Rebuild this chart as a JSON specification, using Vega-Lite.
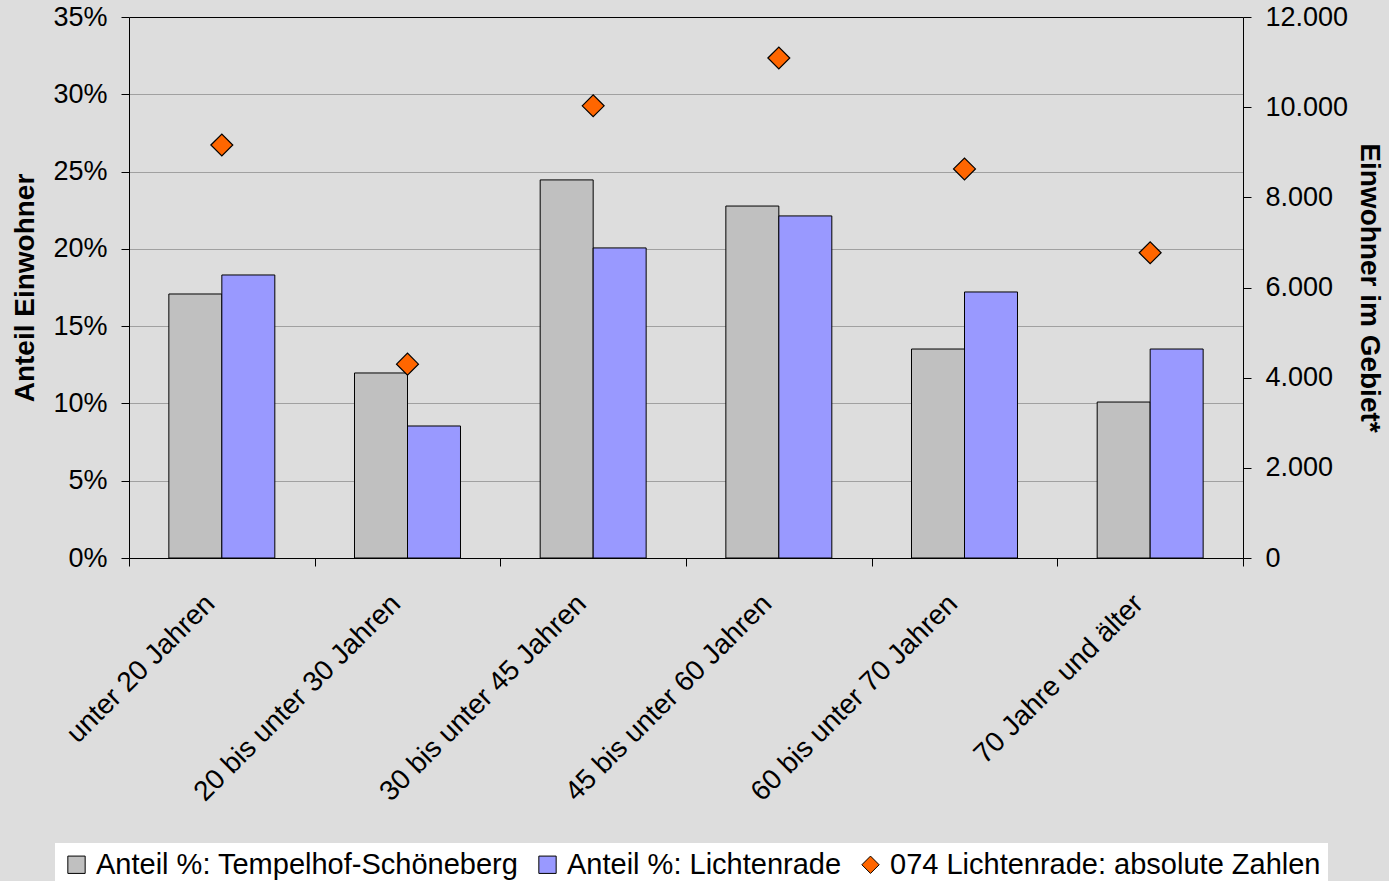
{
  "$schema": "https://vega.github.io/schema/vega-lite/v6.json",
  "width": 1114,
  "height": 541,
  "autosize": {"type": "none"},
  "padding": {"left": 129, "top": 17, "right": 146, "bottom": 323},
  "background": "#DDDDDD",
  "config": {
    "locale": {"number": {"decimal": ",", "thousands": ".", "grouping": [3], "currency": ["", " €"]}},
    "view": {"stroke": null},
    "font": "Liberation Sans",
    "axis": {
      "labelFont": "Liberation Sans",
      "labelFontSize": 27,
      "labelColor": "black",
      "titleFont": "Liberation Sans",
      "titleFontSize": 28,
      "titleFontWeight": "bold",
      "titleColor": "black",
      "domainColor": "black",
      "tickColor": "black",
      "domainWidth": 1,
      "tickWidth": 1
    }
  },
  "datasets": {
    "bars": [
      {"gruppe": "unter 20 Jahren", "serie": "Anteil %: Tempelhof-Schöneberg", "anteil": 0.1708},
      {"gruppe": "unter 20 Jahren", "serie": "Anteil %: Lichtenrade", "anteil": 0.1831},
      {"gruppe": "20 bis unter 30 Jahren", "serie": "Anteil %: Tempelhof-Schöneberg", "anteil": 0.1197},
      {"gruppe": "20 bis unter 30 Jahren", "serie": "Anteil %: Lichtenrade", "anteil": 0.0854},
      {"gruppe": "30 bis unter 45 Jahren", "serie": "Anteil %: Tempelhof-Schöneberg", "anteil": 0.2446},
      {"gruppe": "30 bis unter 45 Jahren", "serie": "Anteil %: Lichtenrade", "anteil": 0.2006},
      {"gruppe": "45 bis unter 60 Jahren", "serie": "Anteil %: Tempelhof-Schöneberg", "anteil": 0.2277},
      {"gruppe": "45 bis unter 60 Jahren", "serie": "Anteil %: Lichtenrade", "anteil": 0.2213},
      {"gruppe": "60 bis unter 70 Jahren", "serie": "Anteil %: Tempelhof-Schöneberg", "anteil": 0.1352},
      {"gruppe": "60 bis unter 70 Jahren", "serie": "Anteil %: Lichtenrade", "anteil": 0.1721},
      {"gruppe": "70 Jahre und älter", "serie": "Anteil %: Tempelhof-Schöneberg", "anteil": 0.1009},
      {"gruppe": "70 Jahre und älter", "serie": "Anteil %: Lichtenrade", "anteil": 0.1352}
    ],
    "punkte": [
      {"gruppe": "unter 20 Jahren", "serie": "074 Lichtenrade: absolute Zahlen", "einwohner": 9160},
      {"gruppe": "20 bis unter 30 Jahren", "serie": "074 Lichtenrade: absolute Zahlen", "einwohner": 4300},
      {"gruppe": "30 bis unter 45 Jahren", "serie": "074 Lichtenrade: absolute Zahlen", "einwohner": 10030},
      {"gruppe": "45 bis unter 60 Jahren", "serie": "074 Lichtenrade: absolute Zahlen", "einwohner": 11090},
      {"gruppe": "60 bis unter 70 Jahren", "serie": "074 Lichtenrade: absolute Zahlen", "einwohner": 8630},
      {"gruppe": "70 Jahre und älter", "serie": "074 Lichtenrade: absolute Zahlen", "einwohner": 6770}
    ]
  },
  "encoding": {
    "x": {
      "field": "gruppe",
      "type": "nominal",
      "sort": ["unter 20 Jahren", "20 bis unter 30 Jahren", "30 bis unter 45 Jahren", "45 bis unter 60 Jahren", "60 bis unter 70 Jahren", "70 Jahre und älter"],
      "scale": {"paddingInner": 0, "paddingOuter": 0},
      "axis": {
        "title": null,
        "tickBand": "extent",
        "labelAngle": -45,
        "labelAlign": "right",
        "labelBaseline": "alphabetic",
        "labelPadding": 39,
        "labelOffset": -6,
        "labelFontSize": 28,
        "tickSize": 8,
        "grid": false,
        "labelLimit": 0
      }
    }
  },
  "layer": [
    {
      "data": {"name": "bars"},
      "mark": {"type": "bar", "stroke": "black", "strokeWidth": 1},
      "encoding": {
        "xOffset": {
          "field": "serie",
          "type": "nominal",
          "sort": ["Anteil %: Tempelhof-Schöneberg", "Anteil %: Lichtenrade"],
          "scale": {"paddingInner": 0, "paddingOuter": 0.752}
        },
        "y": {
          "field": "anteil",
          "type": "quantitative",
          "scale": {"domain": [0, 0.35], "nice": false},
          "axis": {
            "title": "Anteil Einwohner",
            "values": [0, 0.05, 0.1, 0.15, 0.2, 0.25, 0.3, 0.35],
            "format": ".0%",
            "grid": true,
            "gridColor": {"condition": {"test": "datum.value > 0.349", "value": "black"}, "value": "#A0A0A0"},
            "gridWidth": 1.2,
            "tickSize": 8,
            "labelPadding": 14,
            "titlePadding": 13
          }
        },
        "color": {
          "field": "serie",
          "type": "nominal",
          "scale": {
            "domain": ["Anteil %: Tempelhof-Schöneberg", "Anteil %: Lichtenrade", "074 Lichtenrade: absolute Zahlen"],
            "range": ["#C0C0C0", "#9999FF", "#FF6600"]
          },
          "legend": {
            "title": null,
            "orient": "none",
            "legendX": -74,
            "legendY": 826,
            "direction": "horizontal",
            "fillColor": "white",
            "padding": 7,
            "labelFont": "Liberation Sans",
            "labelFontSize": 29,
            "labelColor": "black",
            "labelLimit": 0,
            "labelOffset": 5,
            "columnPadding": 14,
            "symbolSize": 300,
            "symbolStrokeColor": "black",
            "symbolStrokeWidth": 1
          }
        }
      }
    },
    {
      "data": {"name": "punkte"},
      "mark": {"type": "point", "filled": true, "size": 480, "stroke": "black", "strokeWidth": 1.2, "opacity": 1},
      "encoding": {
        "y": {
          "field": "einwohner",
          "type": "quantitative",
          "scale": {"domain": [0, 12000], "nice": false},
          "axis": {
            "orient": "right",
            "title": "Einwohner im Gebiet*",
            "values": [0, 2000, 4000, 6000, 8000, 10000, 12000],
            "format": ",d",
            "grid": false,
            "tickSize": 8,
            "labelPadding": 14,
            "titlePadding": 7
          }
        },
        "color": {
          "field": "serie",
          "type": "nominal",
          "scale": {
            "domain": ["Anteil %: Tempelhof-Schöneberg", "Anteil %: Lichtenrade", "074 Lichtenrade: absolute Zahlen"],
            "range": ["#C0C0C0", "#9999FF", "#FF6600"]
          }
        },
        "shape": {
          "field": "serie",
          "type": "nominal",
          "scale": {
            "domain": ["Anteil %: Tempelhof-Schöneberg", "Anteil %: Lichtenrade", "074 Lichtenrade: absolute Zahlen"],
            "range": ["square", "square", "diamond"]
          },
          "legend": {
            "title": null,
            "orient": "none",
            "legendX": -74,
            "legendY": 826,
            "direction": "horizontal",
            "fillColor": "white",
            "padding": 7,
            "labelFont": "Liberation Sans",
            "labelFontSize": 29,
            "labelColor": "black",
            "labelLimit": 0,
            "labelOffset": 5,
            "columnPadding": 14,
            "symbolSize": 300,
            "symbolStrokeColor": "black",
            "symbolStrokeWidth": 1
          }
        }
      }
    }
  ],
  "resolve": {"scale": {"y": "independent"}}
}
